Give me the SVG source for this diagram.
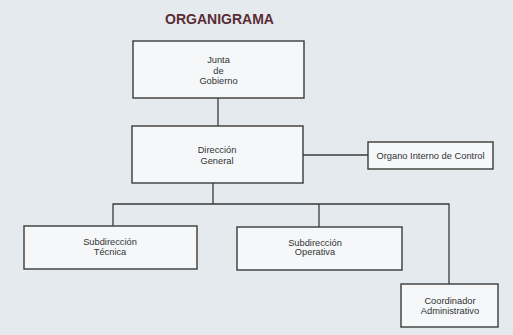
<svg xmlns="http://www.w3.org/2000/svg" width="513" height="335" viewBox="0 0 513 335">
<style>
.box{fill:#f5f7f9;stroke:#3a3a3a;stroke-width:1.4}
.lbl{font-family:"Liberation Sans",Arial,sans-serif;font-size:9.3px;fill:#333;text-anchor:middle}
.con{fill:none;stroke:#3a3a3a;stroke-width:1.3}
</style>
<rect width="513" height="335" fill="#e4eaee"/>
<text x="219.5" y="24" font-family="'Liberation Sans',Arial,sans-serif" font-size="14" font-weight="bold" fill="#5a2d35" text-anchor="middle">ORGANIGRAMA</text>
<g id="connectors">
<path class="con" d="M218 98V126"/>
<path class="con" d="M303 155H368"/>
<path class="con" d="M213 183V204"/>
<path class="con" d="M113 226V204H449V284"/>
<path class="con" d="M319 204V227"/>
</g>
<g id="junta">
<rect class="box" x="133" y="41" width="171" height="57"/>
<text class="lbl" x="218.5" y="63">Junta</text>
<text class="lbl" x="218.5" y="74">de</text>
<text class="lbl" x="218.5" y="84">Gobierno</text>
</g>
<g id="direccion">
<rect class="box" x="132" y="126" width="171" height="57"/>
<text class="lbl" x="217" y="153">Dirección</text>
<text class="lbl" x="217" y="164">General</text>
</g>
<g id="organo">
<rect class="box" x="368" y="142" width="125" height="27"/>
<text class="lbl" x="430.5" y="159">Organo Interno de Control</text>
</g>
<g id="tecnica">
<rect class="box" x="24" y="226" width="173" height="43"/>
<text class="lbl" x="110" y="245">Subdirección</text>
<text class="lbl" x="110" y="255">Técnica</text>
</g>
<g id="operativa">
<rect class="box" x="237" y="227" width="165" height="43"/>
<text class="lbl" x="315" y="246">Subdirección</text>
<text class="lbl" x="315" y="255">Operativa</text>
</g>
<g id="coordinador">
<rect class="box" x="401" y="284" width="97" height="43"/>
<text class="lbl" x="450" y="304">Coordinador</text>
<text class="lbl" x="450" y="314">Administrativo</text>
</g>
</svg>
